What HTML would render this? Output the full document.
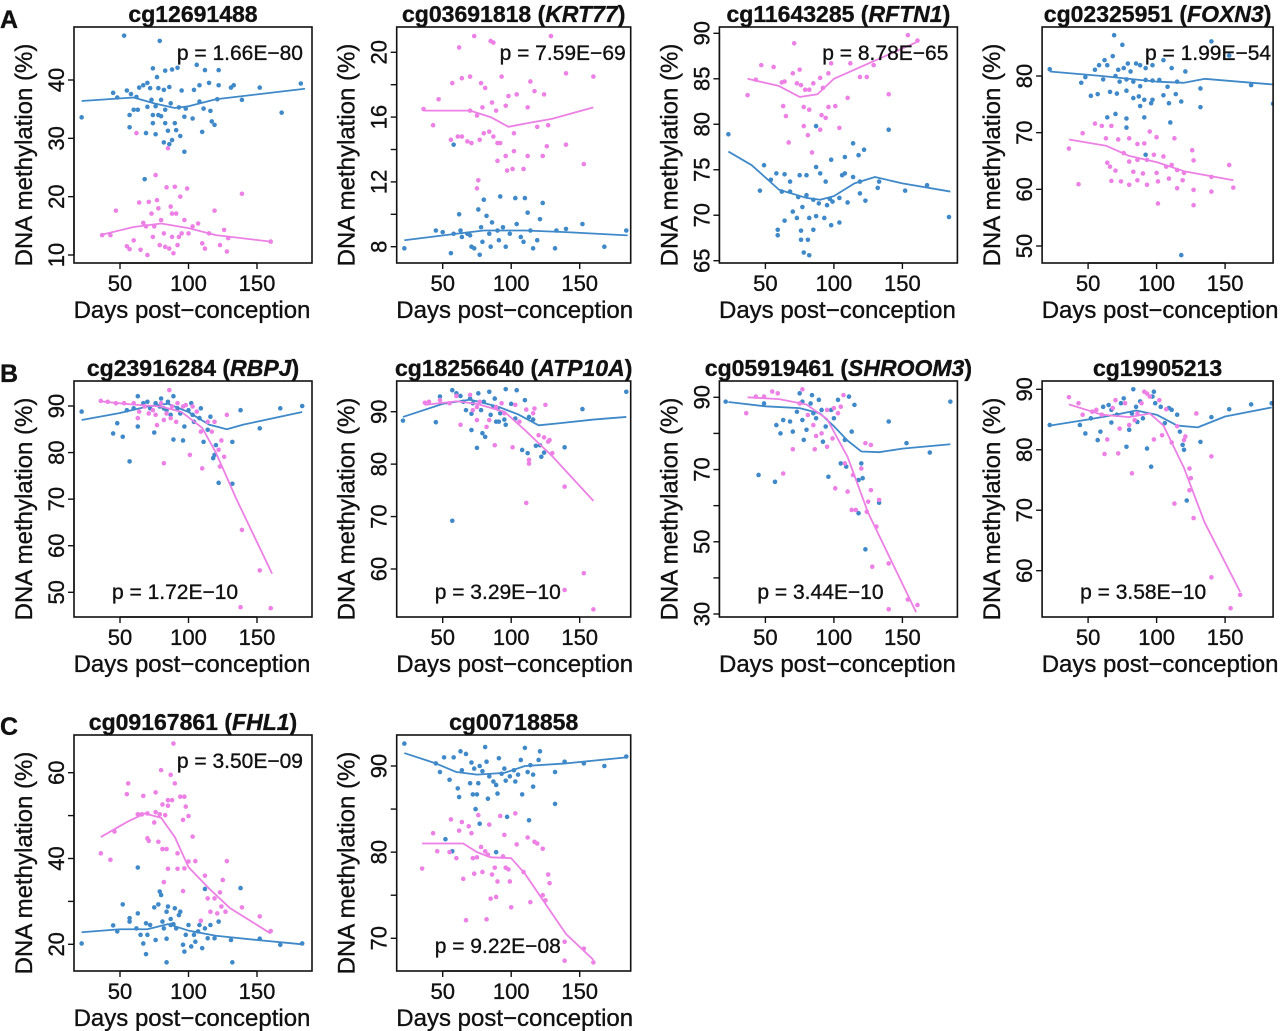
<!DOCTYPE html>
<html><head><meta charset="utf-8"><style>
html,body{margin:0;padding:0;background:#fff;}
svg{display:block;}
text{font-family:"Liberation Sans",Arial,sans-serif;fill:#111;stroke:#111;stroke-width:0.35px;}
</style></head><body>
<svg id="fig" width="1280" height="1031" viewBox="0 0 1280 1031" xmlns="http://www.w3.org/2000/svg"></svg>
<script>
// ---------- DATA ----------
const xTickValues = [50, 100, 150];
const xTickLabels = ["50", "100", "150"];

const p1Ticks = [10, 20, 30, 40];
const p1TickLabels = ["10", "20", "30", "40"];
const p1Blue = [[22,33.6],[53,47.6],[79,46.7],[45,37.8],[48,37],[55,38.2],[58,37.6],[62,37.1],[57,34],[60,34.9],[63,34.9],[57,31.9],[64,38.7],[67,39.1],[70,39.5],[72,38.6],[74,42],[77,40.5],[78,38.6],[80,36.6],[73,36.6],[76,35.5],[78,34],[74,34],[70,35.4],[69,30.9],[74,32.6],[76,30.7],[80,33.8],[82,38.3],[83,41.6],[86,38.8],[88,41.8],[92,42.1],[82,29.3],[86,29],[88,29.7],[91,31.4],[90,32.6],[85,31.3],[83,32.6],[83,34.9],[87,36],[93,35.3],[95,38.2],[94,30.4],[97,27.7],[97,33.7],[98,35.1],[103,33.4],[104,38.3],[106,42.6],[108,36.3],[108,39.1],[111,35.1],[110,31.1],[115,39.5],[116,34.7],[117,32.9],[119,32.3],[112,41.7],[122,41.7],[121,36.7],[122,39.1],[131,38.7],[133,39.1],[139,36.6],[152,38.7],[168,34.4],[182,39.4],[68,23]];
const p1Pink = [[37,13.4],[43,13.4],[47,17.6],[55,11.5],[57,11],[60,12.5],[62,30.9],[64,19],[65,10.9],[67,15.5],[69,14.9],[70,10],[71,19.1],[73,17.1],[74,13.1],[75,14.9],[76,23.7],[77,19.4],[78,18],[79,11.7],[80,16],[82,13.7],[83,11.4],[84,21.6],[85,28.3],[86,11.1],[87,18.3],[88,17.1],[88,13.1],[89,10.3],[90,21.7],[91,17.1],[92,11.7],[93,13.1],[94,20],[95,13.7],[97,16],[99,21.4],[100,13.7],[103,14.9],[107,15.4],[110,12],[112,11.1],[115,13.7],[119,17.6],[123,11.7],[126,14.3],[128,10.6],[129,12.9],[139,20.5],[160,12.3]];
const p1BlueFit = [[22,36.4],[60,37],[75,36],[90,35.2],[100,35.5],[120,36.7],[185,38.5]];
const p1PinkFit = [[37,13.5],[60,14.8],[80,15.4],[100,14.6],[120,13.4],[160,12.3]];

const p2Ticks = [8, 10, 12, 14, 16, 18, 20];
const p2TickLabels = ["8", "", "12", "", "16", "", "20"];
const p2Pink = [[73,21],[62,20.3],[85,20.7],[87,20.6],[129,21],[64,18.4],[70,18.5],[57,18.1],[78,18.1],[81,17.8],[47,17.1],[93,18.5],[98,17.3],[104,17.4],[114,18.2],[117,17.6],[124,17.4],[140,18.7],[160,18.5],[36,16.5],[43,15.5],[70,16.4],[75,16.1],[79,16.6],[86,16.9],[89,16.4],[96,16.7],[112,16.6],[56,14.6],[61,14.8],[64,14.8],[68,14.5],[71,14.4],[77,14.6],[80,15],[84,15.1],[87,14.8],[90,14.4],[92,14.4],[102,15],[119,15.4],[127,15.5],[126,14.2],[140,14.3],[90,13.3],[96,13.6],[102,13.9],[112,13.6],[123,13.6],[97,12.7],[101,12.8],[109,12.8],[153,13.1],[76,12.1],[75,11.6]];
const p2Blue = [[58,14.3],[22,7.9],[45,9],[50,8.9],[56,7.6],[58,8.8],[62,10],[63,9],[64,8.6],[68,8.8],[70,8.7],[71,8],[73,7.9],[76,10.3],[78,9.2],[79,8.3],[80,10.9],[82,9.9],[84,8.8],[85,8],[86,9.5],[90,9],[91,8.4],[92,11.1],[94,9.2],[96,8],[99,8.8],[103,11],[104,9.4],[107,8.6],[109,8.3],[110,11],[112,10.1],[114,9],[116,7.9],[119,8.4],[121,9.7],[123,10.7],[132,7.9],[133,9],[140,9.1],[152,9.4],[168,8],[184,9],[77,7.5]];
const p2PinkFit = [[36,16.4],[70,16.4],[85,16],[98,15.4],[110,15.6],[130,15.9],[160,16.6]];
const p2BlueFit = [[22,8.4],[60,8.8],[80,9],[110,9],[140,8.9],[185,8.7]];

const p3Ticks = [65, 70, 75, 80, 85, 90];
const p3TickLabels = ["65", "70", "75", "80", "85", "90"];
const p3Pink = [[71,88.9],[154,89.8],[161,89.2],[47,86.5],[56,86.3],[37,83.2],[43,84.9],[62,84.6],[64,84.7],[70,85.6],[75,86],[73,84.5],[76,84.3],[79,83.8],[82,83.8],[85,84.5],[90,85.1],[92,84],[96,85.6],[98,86.7],[112,86.7],[119,85.2],[124,85.2],[129,86.5],[63,82],[65,80.9],[78,81.9],[82,81.6],[91,81],[96,81.9],[101,82],[110,82.9],[78,79.8],[81,78.8],[90,79.4],[94,80.7],[104,79.6],[140,83.3],[67,78],[84,76.9]];
const p3Blue = [[23,78.9],[140,79.4],[87,79.8],[114,77.9],[122,77.2],[118,76.6],[108,76.4],[98,76.1],[49,75.5],[54,73.9],[58,74.6],[64,74.5],[68,73.7],[75,74.4],[80,74.4],[87,75.3],[90,74.6],[94,73.7],[106,74.4],[108,74.6],[114,74.2],[119,73.7],[133,73.7],[132,73],[46,72.7],[62,72.6],[68,72.6],[74,72],[80,72.2],[85,71.7],[89,71.3],[95,71.1],[99,71.5],[104,71.9],[110,71.4],[119,72.4],[123,71.6],[152,72.7],[168,73.3],[70,70.4],[73,69.7],[77,70.9],[82,69.7],[87,69.9],[93,69.7],[98,68.9],[64,69.4],[59,68.4],[76,68.3],[85,68.4],[104,69.2],[59,67.8],[76,67.3],[81,67.3],[78,65.9],[82,65.6],[184,69.8],[97,71.8]];
const p3PinkFit = [[37,85],[60,84.2],[75,83],[88,83.3],[100,85],[130,87],[160,89]];
const p3BlueFit = [[23,77],[40,75.5],[60,72.8],[80,71.9],[90,71.7],[100,72.1],[115,73.5],[130,74.2],[150,73.5],[185,72.6]];

const p4Ticks = [50, 60, 70, 80];
const p4TickLabels = ["50", "60", "70", "80"];
const p4Blue = [[22,81.2],[69,87.2],[75,85.5],[68,83.5],[140,86.1],[153,83.6],[55,81.1],[58,81.9],[62,82.8],[64,81.9],[72,81.1],[76,81.4],[79,82.2],[81,80.8],[85,82.2],[88,81.9],[92,81.4],[97,81.9],[105,82.8],[111,81.4],[121,80.8],[45,78.8],[48,79.8],[61,79.4],[70,80],[73,79],[78,79.4],[83,79],[88,78.2],[92,79.3],[97,79.2],[102,79.3],[108,78.1],[115,79],[132,77.8],[169,78.4],[52,76.5],[57,76.8],[66,77.2],[71,76.9],[78,77.4],[83,76.1],[87,76.4],[91,75.8],[97,75.8],[105,76.6],[114,76.8],[109,75.2],[118,75.5],[88,74.7],[96,75.2],[132,74.5],[185,75.1],[64,72.7],[70,73.3],[78,72.5],[91,72.7],[78,70.9],[110,71.8],[92,66.1],[118,48.4]];
const p4Pink = [[36,67.2],[46,69.9],[43,60.9],[55,71.6],[60,71.2],[63,69],[67,71.2],[72,68.8],[80,69],[86,68],[91,68.1],[95,70.2],[100,69.2],[113,69],[64,64.7],[66,64],[70,63.3],[76,66.4],[80,64.9],[83,63.1],[86,65.2],[90,62.8],[93,65.2],[98,66.1],[100,62.9],[105,65.8],[107,64],[111,64.3],[115,63.4],[120,62.9],[126,66.9],[127,65.1],[140,62.2],[153,64.3],[67,61.5],[74,61.4],[80,60.8],[86,61.6],[93,60.8],[101,61.4],[109,61.9],[119,61.6],[115,60.2],[127,59.9],[140,59.6],[156,60.3],[101,57.5],[127,57.2]];
const p4BlueFit = [[22,80.8],[60,80],[100,79],[120,78.8],[135,79.5],[160,79],[185,78.5]];
const p4PinkFit = [[36,68.8],[63,67.7],[80,65.9],[100,64.8],[120,63.2],[156,61.6]];

const p5Ticks = [50, 60, 70, 80, 90];
const p5TickLabels = ["50", "60", "70", "80", "90"];
const p5Blue = [[22,88.8],[45,84.1],[48,86.3],[52,83.4],[57,78.1],[55,89.1],[60,89.5],[63,92.1],[63,85.6],[67,90.6],[70,90.9],[72,89.5],[75,84.3],[76,90.6],[79,89.9],[80,91.6],[84,89.1],[85,90.9],[87,88.1],[89,82.8],[89,92.1],[92,89.5],[94,88.4],[96,82.6],[97,85.6],[100,89.1],[103,88.1],[104,86.6],[108,87.4],[109,89.5],[111,82.3],[114,84.9],[116,87.7],[118,78.8],[119,79.5],[120,81.6],[122,73.5],[132,73.3],[132,82.3],[138,89.1],[152,85.2],[167,89.5],[183,90],[102,90.6],[82,89.5]];
const p5Pink = [[36,91.1],[41,90.9],[47,90.6],[53,90.6],[60,90.6],[63,87.4],[64,88.8],[68,89.9],[71,88.4],[74,89.1],[76,88.1],[77,85.9],[80,90.6],[82,87],[82,77.7],[84,88.4],[86,93.4],[87,87.4],[88,89.9],[91,86.6],[92,90.6],[96,89.9],[98,90.2],[101,79.5],[103,89.9],[106,88.8],[109,84.5],[110,76.6],[114,86.6],[117,84.5],[119,86.6],[122,80.6],[123,77],[124,82.6],[126,79.1],[128,88.1],[139,63.4],[152,54.7],[138,46.8],[160,46.6]];
const p5PinkFit = [[36,91],[60,90.3],[80,89.9],[95,88.7],[110,85.3],[120,80],[135,70],[161,54]];
const p5BlueFit = [[22,87],[50,88.5],[70,89.9],[85,90.5],[100,88.7],[115,86],[128,85],[140,86],[183,88.7]];

const p6Ticks = [60, 70, 80, 90];
const p6TickLabels = ["60", "70", "80", "90"];
const p6Blue = [[21,88.3],[45,88],[48,92.9],[57,69.2],[57,94.1],[60,93.5],[63,93],[65,91.9],[67,90.3],[70,92.5],[71,89.6],[71,86.5],[72,91.6],[75,83.1],[76,93.5],[78,90.3],[79,85.9],[80,91.9],[81,85.2],[84,93.8],[85,89.4],[87,90.9],[88,92.5],[90,90.6],[91,88.1],[92,89.7],[96,94.3],[96,87.5],[100,91.5],[104,94.1],[103,88.7],[108,82.7],[110,92.2],[112,82.1],[113,89],[116,88.5],[118,83.5],[121,83.6],[122,81.4],[124,82.2],[139,83.2],[152,90.5],[184,93.8],[89,88.1],[95,88.5]];
const p6Pink = [[37,91.7],[40,91.9],[48,92.2],[55,91.6],[60,93],[63,87.5],[70,93.2],[72,90.3],[75,90.9],[77,91.9],[82,87.1],[84,88.4],[88,83.6],[89,90.9],[93,91.6],[95,89.7],[101,83.2],[103,91.3],[106,88.1],[111,90.4],[113,80.1],[116,89.7],[117,90.6],[120,85.5],[124,85.1],[125,91.3],[127,84.3],[128,84.6],[130,82.1],[139,75.7],[111,72.6],[153,59.2],[139,56],[160,52.3],[113,80.8],[75,88.4]];
const p6PinkFit = [[37,91.3],[60,92],[75,91.5],[95,90],[110,86.5],[130,81.5],[160,73]];
const p6BlueFit = [[21,89],[50,91.5],[70,92.3],[90,91],[105,89.5],[120,87.4],[135,87.8],[160,88.5],[184,89]];

const p7Ticks = [30, 40, 50, 60, 70, 80, 90];
const p7TickLabels = ["30", "", "50", "", "70", "", "90"];
const p7Blue = [[21,88.8],[49,88.3],[45,68.5],[57,66.6],[58,82.3],[61,80],[63,83.7],[68,83.3],[70,80.5],[73,86],[75,91.1],[77,88.8],[78,78.2],[80,81],[83,88.3],[84,90.6],[85,85.6],[87,84.2],[89,89.3],[91,86.5],[92,77.7],[94,81.9],[96,68],[98,86.5],[100,84.2],[103,89.3],[105,71.7],[108,78.2],[109,70.8],[111,90.2],[113,80.5],[115,87.9],[118,67.1],[120,71.7],[121,67.6],[123,47.9],[133,60.8],[118,57.9],[140,83.3],[153,77.3],[170,74.7],[185,88.8],[77,83.7]];
const p7Pink = [[36,85.6],[43,90.2],[49,90.2],[55,91.6],[59,91.1],[63,68.9],[70,75.6],[75,88.3],[77,92.2],[81,85.1],[85,82.3],[86,75.6],[87,79.3],[91,80],[95,76.3],[95,86.5],[99,78.6],[100,87],[103,85.6],[105,87.4],[101,64.8],[107,90.6],[108,71.7],[110,63.9],[113,58.8],[114,68.5],[116,58.8],[120,70.3],[123,77.3],[124,58.3],[125,61.1],[127,64.3],[128,43.1],[127,76.8],[133,61.6],[140,44],[140,31.3],[154,34],[161,32.5],[131,54.2]];
const p7PinkFit = [[37,90],[60,89.5],[80,88],[95,84],[110,73.5],[125,58],[160,30.5]];
const p7BlueFit = [[23,88.7],[50,87.5],[75,87],[90,85.5],[100,82],[110,78],[120,75],[133,74.8],[150,75.8],[185,77]];

const p8Ticks = [60, 70, 80, 90];
const p8TickLabels = ["60", "70", "80", "90"];
const p8Blue = [[22,84.1],[44,84.1],[48,82.7],[52,85.2],[57,81.6],[61,87.1],[65,87.4],[67,86.6],[67,84.5],[71,85.8],[74,87.7],[76,88.5],[78,80.5],[80,83.3],[82,86],[83,90],[85,87.1],[86,84.6],[88,88],[90,85.2],[93,80.2],[96,77.2],[97,88.8],[98,89.6],[99,87.7],[103,87.1],[106,84.4],[109,86.9],[111,86.6],[115,85.8],[117,83],[119,80.8],[120,80],[122,71.6],[132,81.3],[140,85.4],[153,86.7],[169,87.5],[184,87.7],[59,83]];
const p8Pink = [[36,88.7],[43,87.7],[46,85.8],[53,86.3],[56,86.6],[60,85.8],[62,79.3],[64,81.7],[68,86.9],[70,88.2],[72,79.4],[73,83.5],[77,87.7],[80,84.1],[82,76.1],[84,84.9],[86,86],[89,87.7],[91,89.6],[93,89.3],[95,88.8],[98,81.7],[102,88.2],[104,82.4],[107,86.7],[111,81.2],[113,71.1],[115,83.9],[120,81.6],[121,82.2],[124,76.9],[125,75.3],[124,73.3],[127,68.7],[129,86],[140,78.9],[140,58.9],[154,53.8],[161,56]];
const p8PinkFit = [[36,87.5],[60,85.8],[80,85.4],[95,86],[105,84],[120,77],[135,68],[161,56.5]];
const p8BlueFit = [[22,84],[50,85],[70,85.8],[85,86.5],[100,85.8],[115,84],[130,83.7],[150,85.5],[184,87]];

const p9Ticks = [20, 30, 40, 50, 60];
const p9TickLabels = ["20", "", "40", "", "60"];
const p9Pink = [[89,66.8],[80,60.6],[90,57.5],[56,57.5],[55,55],[67,54.6],[76,55.4],[87,59.5],[85,53.6],[81,52.6],[85,52.3],[88,53.6],[94,54.4],[97,54.4],[98,52.1],[63,50.3],[66,50.3],[70,50.5],[76,50.8],[79,50.3],[83,50.1],[75,48.4],[96,49],[100,49.9],[46,46.3],[36,41.2],[43,39.7],[70,44.7],[71,44.1],[78,43.9],[81,42.2],[84,42.2],[92,41.2],[103,45.1],[100,39.3],[105,39.4],[85,37.6],[92,37.6],[97,37.7],[128,39.4],[112,36],[82,34.5],[96,32.4],[125,35],[114,30.7],[119,30.7],[124,28.8],[123,32.1],[127,27.6],[121,27.2],[139,28.6],[152,26.5],[160,23.1],[109,25.5],[116,27.6]];
const p9Blue = [[22,20.2],[45,24.4],[48,23],[52,29.3],[57,26.1],[57,25.3],[62,23.7],[63,37.9],[63,27.2],[65,22.2],[67,20.2],[69,24.9],[70,22.2],[72,24.5],[75,28.6],[76,21],[78,29.3],[79,32.3],[80,31.5],[81,25.3],[82,23.7],[84,21.3],[84,27.6],[85,28.8],[87,24.5],[87,25.9],[89,24.7],[90,28.4],[91,23.7],[93,26.8],[94,27.6],[96,19.9],[97,18.3],[98,22.2],[100,24.5],[102,19.5],[104,22.2],[105,20.6],[107,23],[108,24.5],[110,19.1],[112,23.7],[112,32.9],[114,21.4],[116,24.5],[119,21.4],[122,25.3],[131,21],[138,33.1],[132,15.8],[84,15.8],[69,17.7],[152,21.3],[167,19.9],[183,20.2]];
const p9PinkFit = [[36,45],[55,48.5],[68,50.5],[80,49.5],[90,45],[100,38],[115,33],[130,28.5],[160,22.5]];
const p9BlueFit = [[22,22.8],[50,23.5],[70,23.5],[85,24.7],[100,23.2],[120,22],[150,21],[183,20]];

const p10Ticks = [70, 75, 80, 85, 90];
const p10TickLabels = ["70", "", "80", "", "90"];
const p10Blue = [[22,92.6],[45,90.3],[48,89.3],[51,91],[55,88.4],[58,91],[61,87.4],[62,86.4],[63,91.7],[64,89.5],[67,91.4],[70,88],[71,90.4],[72,86.7],[73,89.7],[75,86.7],[76,88],[77,90],[79,89.4],[81,92.2],[82,90.5],[83,86.2],[84,88.8],[87,88.2],[89,87.8],[90,86.8],[91,90.9],[93,89.1],[95,89.7],[96,88.3],[99,88.8],[102,89.5],[103,88.2],[105,89],[107,90.7],[108,86.7],[110,92.1],[112,89.3],[114,90.1],[116,89],[116,87.6],[120,90.7],[121,91.7],[132,89.3],[132,85.6],[139,90.5],[153,90.3],[168,90],[184,91.1],[74,85],[77,83.3],[97,84.1],[113,83.7],[52,81.5],[57,80.1],[89,80]];
const p10Pink = [[35,78.1],[43,82.2],[46,80.1],[55,80],[56,83.8],[60,79.3],[62,82.5],[64,83.5],[65,76.9],[67,72.1],[69,83],[71,82.2],[72,79.3],[73,77.5],[75,79.4],[76,84.3],[78,80.6],[79,77.7],[81,80.1],[82,72.2],[83,79.7],[84,83.2],[85,74.6],[86,77.4],[88,78.2],[89,74.8],[90,76.6],[92,84.2],[94,79.5],[95,82],[96,78.2],[98,78],[100,73.6],[99,76.6],[103,84.5],[104,80.9],[109,77.7],[112,81.7],[114,74.2],[117,81.2],[119,81],[123,80.4],[123,75],[125,74.4],[127,77.4],[128,76.4],[139,69.6],[139,67.4],[153,68.8],[160,67.2]];
const p10BlueFit = [[22,91.5],[45,90.3],[60,89.3],[75,89],[95,89.2],[110,90],[140,90.3],[184,91]];
const p10PinkFit = [[35,81],[65,81],[75,80],[85,79.4],[100,79.3],[110,77.5],[125,74],[140,70.5],[160,67.5]];

// ---------- LAYOUT / RENDER ----------
const NS = "http://www.w3.org/2000/svg";
const svg = document.getElementById("fig");
const BLUE = "#3f89c9", PINK = "#ec80e4";
function mk(tag, attrs, parent) {
  const e = document.createElementNS(NS, tag);
  for (const k in attrs) e.setAttribute(k, attrs[k]);
  (parent || svg).appendChild(e);
  return e;
}
const rowTop = [27, 381, 735];
const panels = [
  {id:"cg12691488", gene:"", row:0, col:0, ticks:p1Ticks, labels:p1TickLabels, y0:10, py0:255, y1:40, py1:80, series:[[p1Blue,p1BlueFit,BLUE],[p1Pink,p1PinkFit,PINK]], p:"p = 1.66E\u221280", pos:"tr"},
  {id:"cg03691818", gene:"KRT77", row:0, col:1, ticks:p2Ticks, labels:p2TickLabels, y0:8, py0:246.7, y1:20, py1:52.3, series:[[p2Blue,p2BlueFit,BLUE],[p2Pink,p2PinkFit,PINK]], p:"p = 7.59E\u221269", pos:"tr"},
  {id:"cg11643285", gene:"RFTN1", row:0, col:2, ticks:p3Ticks, labels:p3TickLabels, y0:65, py0:260.7, y1:90, py1:33.3, series:[[p3Blue,p3BlueFit,BLUE],[p3Pink,p3PinkFit,PINK]], p:"p = 8.78E\u221265", pos:"tr"},
  {id:"cg02325951", gene:"FOXN3", row:0, col:3, ticks:p4Ticks, labels:p4TickLabels, y0:50, py0:246, y1:80, py1:76, series:[[p4Blue,p4BlueFit,BLUE],[p4Pink,p4PinkFit,PINK]], p:"p = 1.99E\u221254", pos:"tr"},
  {id:"cg23916284", gene:"RBPJ", row:1, col:0, ticks:p5Ticks, labels:p5TickLabels, y0:50, py0:592.3, y1:90, py1:406, series:[[p5Blue,p5BlueFit,BLUE],[p5Pink,p5PinkFit,PINK]], p:"p = 1.72E\u221210", pos:"bl"},
  {id:"cg18256640", gene:"ATP10A", row:1, col:1, ticks:p6Ticks, labels:p6TickLabels, y0:60, py0:569, y1:90, py1:411.7, series:[[p6Blue,p6BlueFit,BLUE],[p6Pink,p6PinkFit,PINK]], p:"p = 3.29E\u221210", pos:"bl"},
  {id:"cg05919461", gene:"SHROOM3", row:1, col:2, ticks:p7Ticks, labels:p7TickLabels, y0:30, py0:614, y1:90, py1:397.3, series:[[p7Blue,p7BlueFit,BLUE],[p7Pink,p7PinkFit,PINK]], p:"p = 3.44E\u221210", pos:"bl"},
  {id:"cg19905213", gene:"", row:1, col:3, ticks:p8Ticks, labels:p8TickLabels, y0:60, py0:570.7, y1:90, py1:389.3, series:[[p8Blue,p8BlueFit,BLUE],[p8Pink,p8PinkFit,PINK]], p:"p = 3.58E\u221210", pos:"bl"},
  {id:"cg09167861", gene:"FHL1", row:2, col:0, ticks:p9Ticks, labels:p9TickLabels, y0:20, py0:944.3, y1:60, py1:772.7, series:[[p9Blue,p9BlueFit,BLUE],[p9Pink,p9PinkFit,PINK]], p:"p = 3.50E\u221209", pos:"tr"},
  {id:"cg00718858", gene:"", row:2, col:1, ticks:p10Ticks, labels:p10TickLabels, y0:70, py0:938.3, y1:90, py1:766, series:[[p10Blue,p10BlueFit,BLUE],[p10Pink,p10PinkFit,PINK]], p:"p = 9.22E\u221208", pos:"bl"}
];
const boxW = [238, 234, 238, 231];

[["A",20],["B",374],["C",727]].forEach(([t,y])=>{
  const e = mk("text", {x:0, y:y+8, "font-size":25, "font-weight":"bold"});
  e.textContent = t;
  
  
});

panels.forEach((P, idx) => {
  const g = mk("g", {});
  
  
  const x50 = 120 + 322.7 * P.col;
  const left = x50 - 46;
  const W = boxW[P.col];
  const top = rowTop[P.row];
  const H = 236;
  const bottom = top + H;
  const sx = d => x50 + (d - 50) * 1.37;
  const sy = v => P.py0 + (v - P.y0) * (P.py1 - P.py0) / (P.y1 - P.y0);

  const t = mk("text", {x:left + W/2, y:top - 5, "text-anchor":"middle", "font-size":23, "font-weight":"bold"}, g);
  
  
  t.appendChild(document.createTextNode(P.id + (P.gene ? " (" : "")));
  if (P.gene) {
    const ts = mk("tspan", {"font-style":"italic"}, t);
    ts.textContent = P.gene;
    t.appendChild(document.createTextNode(")"));
  }

  const cp = mk("clipPath", {id:"clip" + idx}, g);
  mk("rect", {x:left, y:top, width:W, height:H}, cp);
  const plot = mk("g", {"clip-path":"url(#clip" + idx + ")"}, g);
  
  

  P.series.forEach(([pts, fit, col]) => {
    const sname = col === BLUE ? "blue" : "pink";
    pts.forEach(([d, v]) => {
      const c = mk("circle", {cx:sx(d), cy:sy(v), r:2.3, fill:col}, plot);
      
      
    });
    const pl = mk("polyline", {points:fit.map(([d,v]) => sx(d) + "," + sy(v)).join(" "), fill:"none", stroke:col, "stroke-width":1.8, "stroke-linejoin":"round"}, plot);
    
    
  });

  const b = mk("rect", {x:left, y:top, width:W, height:H, fill:"none", stroke:"#111", "stroke-width":1.6}, g);
  
  

  const xa = mk("g", {}, g);
  
  
  mk("line", {x1:sx(xTickValues[0]), x2:sx(xTickValues[xTickValues.length-1]), y1:bottom, y2:bottom, stroke:"#111", "stroke-width":1.4}, xa);
  xTickValues.forEach((v, i) => {
    mk("line", {x1:sx(v), x2:sx(v), y1:bottom, y2:bottom + 6, stroke:"#111", "stroke-width":1.4}, xa);
    const tl = mk("text", {x:sx(v), y:bottom + 28, "text-anchor":"middle", "font-size":22}, xa);
    tl.textContent = xTickLabels[i];
    
    
  });
  const xt = mk("text", {x:left + 118, y:bottom + 55, "text-anchor":"middle", "font-size":24}, g);
  xt.textContent = "Days post\u2212conception";
  
  

  const ya = mk("g", {}, g);
  
  
  const yt0 = sy(P.ticks[0]), yt1 = sy(P.ticks[P.ticks.length-1]);
  mk("line", {x1:left, x2:left, y1:yt0, y2:yt1, stroke:"#111", "stroke-width":1.4}, ya);
  P.ticks.forEach((v, i) => {
    const y = sy(v);
    mk("line", {x1:left - 6, x2:left, y1:y, y2:y, stroke:"#111", "stroke-width":1.4}, ya);
    if (P.labels[i]) {
      const lx = left - 10;
      const tl = mk("text", {x:lx, y:y, "text-anchor":"middle", "font-size":22, transform:"rotate(-90 " + lx + " " + y + ")"}, ya);
      tl.textContent = P.labels[i];
      
      
    }
  });
  const ax = left - 42, ay = top + H/2 + 10;
  const ytt = mk("text", {x:ax, y:ay, "text-anchor":"middle", "font-size":24, transform:"rotate(-90 " + ax + " " + ay + ")"}, g);
  ytt.textContent = "DNA methylation (%)";
  
  

  let pt;
  if (P.pos === "tr") pt = mk("text", {x:left + 229, y:top + 33, "text-anchor":"end", "font-size":21}, g);
  else pt = mk("text", {x:left + 38, y:top + 218, "text-anchor":"start", "font-size":21}, g);
  pt.textContent = P.p;
  
  
});
</script>
</body></html>
